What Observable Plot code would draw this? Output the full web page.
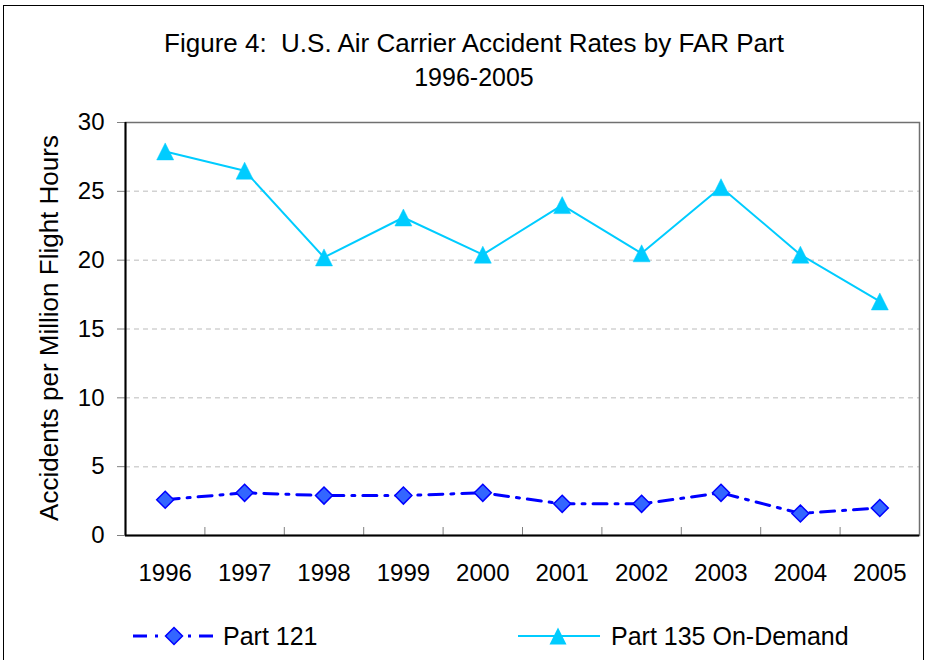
<!DOCTYPE html>
<html><head><meta charset="utf-8">
<script src="https://cdn.jsdelivr.net/npm/d3@7"></script>
<script src="https://cdn.jsdelivr.net/npm/@observablehq/plot@0.6"></script>
<style>
body{margin:0;background:#fff;font-family:"Liberation Sans",Arial,sans-serif;color:#000;}
#wrap{position:relative;width:927px;height:660px;overflow:hidden;background:#fff;}
#border{position:absolute;left:3px;top:5px;width:919px;height:720px;border:1.5px solid #000;}
#plot{position:absolute;left:0;top:0;}
.t{position:absolute;left:0;width:948px;text-align:center;line-height:30px;white-space:pre;}
#ylab{position:absolute;left:49px;top:328px;font-size:26px;line-height:30px;white-space:nowrap;transform:translate(-50%,-50%) rotate(-90deg);}
.lt{position:absolute;font-size:25px;line-height:30px;white-space:nowrap;}
#leg{position:absolute;left:0;top:616px;}
</style></head>
<body>
<div id="wrap">
  <div id="border"></div>
  <div id="plot"></div>
  <div class="t" style="top:28px;font-size:26px">Figure 4:  U.S. Air Carrier Accident Rates by FAR Part</div>
  <div class="t" style="top:62px;font-size:25px">1996-2005</div>
  <div id="ylab">Accidents per Million Flight Hours</div>
  <svg id="leg" width="927" height="40"></svg>
  <div class="lt" id="lt1" style="left:223px;top:621px"></div>
  <div class="lt" id="lt2" style="left:611px;top:621px"></div>
</div>
<script>
const years = [1996, 1997, 1998, 1999, 2000, 2001, 2002, 2003, 2004, 2005];
const part121 = [2.6, 3.1, 2.9, 2.9, 3.1, 2.3, 2.3, 3.1, 1.6, 2.0];
const part135 = [27.9, 26.5, 20.2, 23.1, 20.4, 24.0, 20.5, 25.3, 20.4, 17.0];
const yTicks = [0, 5, 10, 15, 20, 25, 30];
const gridTicks = [5, 10, 15, 20, 25];
const seriesNames = ["Part 121", "Part 135 On-Demand"];
const boundaries = years.slice(0, -1).map(y => y + 0.5);

const rows121 = years.map((y, i) => ({year: y, value: part121[i]}));
const rows135 = years.map((y, i) => ({year: y, value: part135[i]}));

const diamond = {draw(ctx, size) { const r = Math.sqrt(size / Math.PI); ctx.moveTo(0, -r); ctx.lineTo(r, 0); ctx.lineTo(0, r); ctx.lineTo(-r, 0); ctx.closePath(); }};
const triangle = {draw(ctx, size) { const r = Math.sqrt(size / Math.PI); ctx.moveTo(0, -r); ctx.lineTo(r, r); ctx.lineTo(-r, r); ctx.closePath(); }};

const c121 = "#0000FF", f121 = "#3366FF", c135 = "#00CCFF";
const dash121 = "14,8,3,8";

const chart = Plot.plot({
  width: 927,
  height: 600,
  marginLeft: 125,
  marginRight: 8,
  marginTop: 122,
  marginBottom: 65,
  style: {fontFamily: "'Liberation Sans', Arial, sans-serif", background: "transparent", overflow: "visible"},
  x: {type: "linear", domain: [1995.5, 2005.5]},
  y: {domain: [0, 30]},
  marks: [
    Plot.gridY({ticks: gridTicks, stroke: "#d2d2d2", strokeOpacity: 1, strokeWidth: 1.5, strokeDasharray: "5,4"}),
    Plot.frame({stroke: "#707070", strokeWidth: 1.5}),
    Plot.axisY({ticks: yTicks, tickSize: 8, tickPadding: 13, fontSize: 24, stroke: "#808080", label: null}),
    Plot.axisX({ticks: years, tickSize: 0, tickPadding: 28, fontSize: 24, tickFormat: d => String(d), label: null}),
    Plot.axisX({ticks: boundaries, tickSize: 8, dy: -8, stroke: "#808080", tickFormat: () => "", label: null}),
    Plot.ruleY([0], {stroke: "#000", strokeWidth: 2}),
    Plot.ruleX([1995.5], {stroke: "#000", strokeWidth: 2}),
    Plot.line(rows135, {x: "year", y: "value", stroke: c135, strokeWidth: 2}),
    Plot.dot(rows135, {x: "year", y: "value", symbol: triangle, r: 8.5, fill: c135, stroke: c135, strokeWidth: 0.5}),
    Plot.line(rows121, {x: "year", y: "value", stroke: c121, strokeWidth: 3, strokeDasharray: dash121}),
    Plot.dot(rows121, {x: "year", y: "value", symbol: diamond, r: 8.5, fill: f121, stroke: c121, strokeWidth: 1.5})
  ]
});
document.getElementById("plot").appendChild(chart);

// legend
document.getElementById("lt1").textContent = seriesNames[0];
document.getElementById("lt2").textContent = seriesNames[1];
const leg = d3.select("#leg");
leg.append("line").attr("x1", 133).attr("x2", 216).attr("y1", 20).attr("y2", 20)
  .attr("stroke", c121).attr("stroke-width", 3).attr("stroke-dasharray", dash121);
leg.append("path").attr("d", d3.symbol(diamond, 8.5 * 8.5 * Math.PI)()).attr("transform", "translate(174,20)")
  .attr("fill", f121).attr("stroke", c121).attr("stroke-width", 1.5);
leg.append("line").attr("x1", 518).attr("x2", 600).attr("y1", 20).attr("y2", 20)
  .attr("stroke", c135).attr("stroke-width", 2);
leg.append("path").attr("d", d3.symbol(triangle, 8.5 * 8.5 * Math.PI)()).attr("transform", "translate(558,20)")
  .attr("fill", c135);
</script>
</body></html>
